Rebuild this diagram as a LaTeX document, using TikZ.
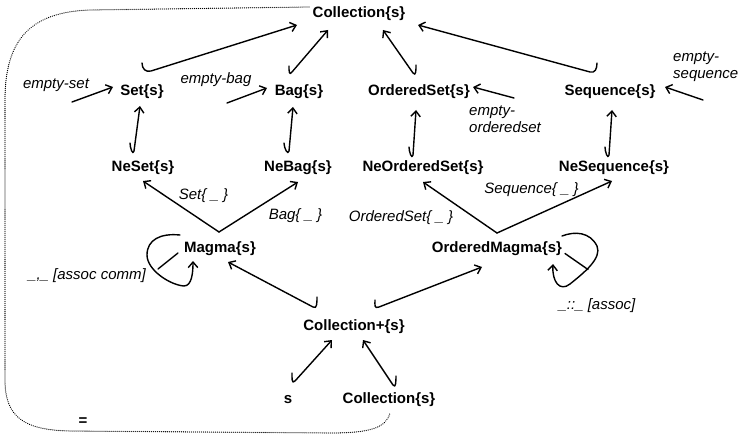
\documentclass[tikz,border=0pt]{standalone}
\usepackage{fontspec}
\setmainfont{Liberation Sans}
\usetikzlibrary{arrows.meta,calc}
\begin{document}
\begin{tikzpicture}[x=1pt,y=-1pt,
  sortnode/.style={font=\fontsize{15}{17}\selectfont\bfseries, inner sep=0pt, text height=11pt, text depth=3.2pt},
  oplabel/.style={font=\fontsize{15}{17}\selectfont\itshape, inner sep=0pt, text height=11pt, text depth=3.2pt},
  oplabeltwo/.style={font=\fontsize{15}{17}\selectfont\itshape, inner sep=0pt, align=left, anchor=north west},
  conn/.style={line width=1.4pt, -{Straight Barb[length=5.5pt,width=9.5pt]}, line cap=round, line join=round},
  plainline/.style={line width=1.4pt, line cap=round},
  eqline/.style={line width=1.3pt, dash pattern=on 0.01pt off 2pt, line cap=round}
]
\useasboundingbox (0,0) rectangle (740,436);

% sorts
\node[sortnode] (top) at (359,13.5) {Collection\{s\}};
\node[sortnode] (set) at (142,92) {Set\{s\}};
\node[sortnode] (bag) at (299,92) {Bag\{s\}};
\node[sortnode] (oset) at (419,92) {OrderedSet\{s\}};
\node[sortnode] (seq) at (610,92) {Sequence\{s\}};
\node[sortnode] (neset) at (143,168) {NeSet\{s\}};
\node[sortnode] (nebag) at (298,168) {NeBag\{s\}};
\node[sortnode] (neoset) at (423,168) {NeOrderedSet\{s\}};
\node[sortnode] (neseq) at (614,168) {NeSequence\{s\}};
\node[sortnode] (magma) at (220,249) {Magma\{s\}};
\node[sortnode] (omagma) at (497,248.5) {OrderedMagma\{s\}};
\node[sortnode] (cplus) at (354,327) {Collection+\{s\}};
\node[sortnode] (s) at (288,400) {s};
\node[sortnode] (cbot) at (389,400) {Collection\{s\}};
\node[sortnode] (eq) at (83,421.5) {=};

% operator labels
\node[oplabel] (lset) at (56,85) {empty-set};
\node[oplabel] (lbag) at (216,80) {empty-bag};
\node[oplabeltwo] (loset) at (469,106) {empty-\\orderedset};
\node[oplabeltwo] (lseq) at (673,52) {empty-\\sequence};
\node[oplabel] (lsetop) at (203.5,195.5) {Set\{ \_ \}};
\node[oplabel] (lbagop) at (295.5,215.5) {Bag\{ \_ \}};
\node[oplabel] (losetop) at (401,218) {OrderedSet\{ \_ \}};
\node[oplabel] (lseqop) at (531.5,190) {Sequence\{ \_ \}};
\node[oplabel] (lcomm) at (87,275.5) {\_,\_ [assoc comm]};
\node[oplabel] (lassoc) at (597,305.5) {\_::\_ [assoc]};

% subsort arrows to Collection
\draw[conn] ($(set)+(0,-29)$) .. controls +(0,6) and +(-5,1.5) .. ($(set)+(9,-21)$) -- ($(top)+(-62,11.5)$);
\draw[conn] ($(bag)+(-10,-26)$) .. controls +(0,5) and +(-3,4) .. ($(bag)+(-7,-20)$) -- ($(top)+(-31,16.5)$);
\draw[conn] ($(oset)+(-3,-27)$) .. controls +(0,5) and +(3,4) .. ($(oset)+(-6,-19)$) -- ($(top)+(24,16.5)$);
\draw[conn] ($(seq)+(-13,-29)$) .. controls +(0,6) and +(5,1.3) .. ($(seq)+(-20,-20)$) -- ($(top)+(59,11.5)$);

% constants
\draw[conn] ($(lset)+(16,17)$) -- ($(set)+(-29,-5)$);
\draw[conn] ($(lbag)+(11,23)$) -- ($(bag)+(-32,-4)$);
\draw[conn] ($(loset.north west)+(45,-8)$) -- ($(oset)+(54,-5)$);
\draw[conn] ($(lseq.north west)+(30,48)$) -- ($(seq)+(55,-5)$);

% Ne subsorts
\draw[conn] ($(neset)+(-13,-25)$) .. controls +(0,5) and +(-1,5) .. ($(neset)+(-9,-17)$) -- ($(set)+(-2,14)$);
\draw[conn] ($(nebag)+(-14,-25)$) .. controls +(0,5) and +(-1,5) .. ($(nebag)+(-9,-17)$) -- ($(bag)+(-6,15)$);
\draw[conn] ($(neoset)+(-14,-21)$) .. controls +(0,5) and +(-1,5) .. ($(neoset)+(-10,-13)$) -- ($(oset)+(-3,18)$);
\draw[conn] ($(neseq)+(-9,-21)$) .. controls +(0,5) and +(-1,5) .. ($(neseq)+(-5,-13)$) -- ($(seq)+(2,18)$);

% constructors
\draw[conn] ($(magma)+(-1,-17)$) -- ($(neset)+(0,13)$);
\draw[conn] ($(magma)+(-1,-17)$) -- ($(nebag)+(0,14)$);
\draw[conn] ($(omagma)+(0,-15.5)$) -- ($(neoset)+(0,14)$);
\draw[conn] ($(omagma)+(0,-15.5)$) -- ($(neseq)+(-2,13)$);

% Collection+ 
\draw[conn] ($(cplus)+(-37,-30)$) .. controls +(0,6) and +(4,2.5) .. ($(cplus)+(-41,-20)$) -- ($(magma)+(8,13)$);
\draw[conn] ($(cplus)+(21,-27)$) .. controls +(0,5) and +(-5,2) .. ($(cplus)+(25,-20)$) -- ($(omagma)+(-15,18.5)$);
\draw[conn] ($(s)+(4,-27)$) .. controls +(0,5) and +(-3.4,3.7) .. ($(s)+(7,-19)$) -- ($(cplus)+(-22,13)$);
\draw[conn] ($(cbot)+(7,-24)$) .. controls +(0,5) and +(2.8,4.2) .. ($(cbot)+(4,-15)$) -- ($(cplus)+(9,13)$);

% self loops
\begin{scope}[shift={(magma.center)}]
\draw[conn] (-40,-14) .. controls (-60,-16) and (-73,-9) .. (-73,6) .. controls (-73,21) and (-50,36) .. (-36,37) .. controls (-28,37) and (-27,23) .. (-27,12);
\draw[plainline] (-42,4) -- (-62,20);
\end{scope}
\begin{scope}[shift={(omagma.center)}]
\draw[conn] (65,-12.5) .. controls (78,-17.5) and (93,-16.5) .. (100,-2.5) .. controls (105,9.5) and (88,23.5) .. (73,35.5) .. controls (63,43.5) and (55,33.5) .. (56,15.5);
\draw[plainline] (68,5) -- (91,21);
\end{scope}

% equality
\draw[eqline] ($(top)+(-50,-6.5)$) -- (90,10) .. controls (30,12) and (5,40) .. (5,100) -- (5,380) .. controls (5,418) and (25,430) .. (70,431) -- (330,433) .. controls (370,433) and (386,428) .. ($(cbot)+(1,13)$);
\end{tikzpicture}
\end{document}
